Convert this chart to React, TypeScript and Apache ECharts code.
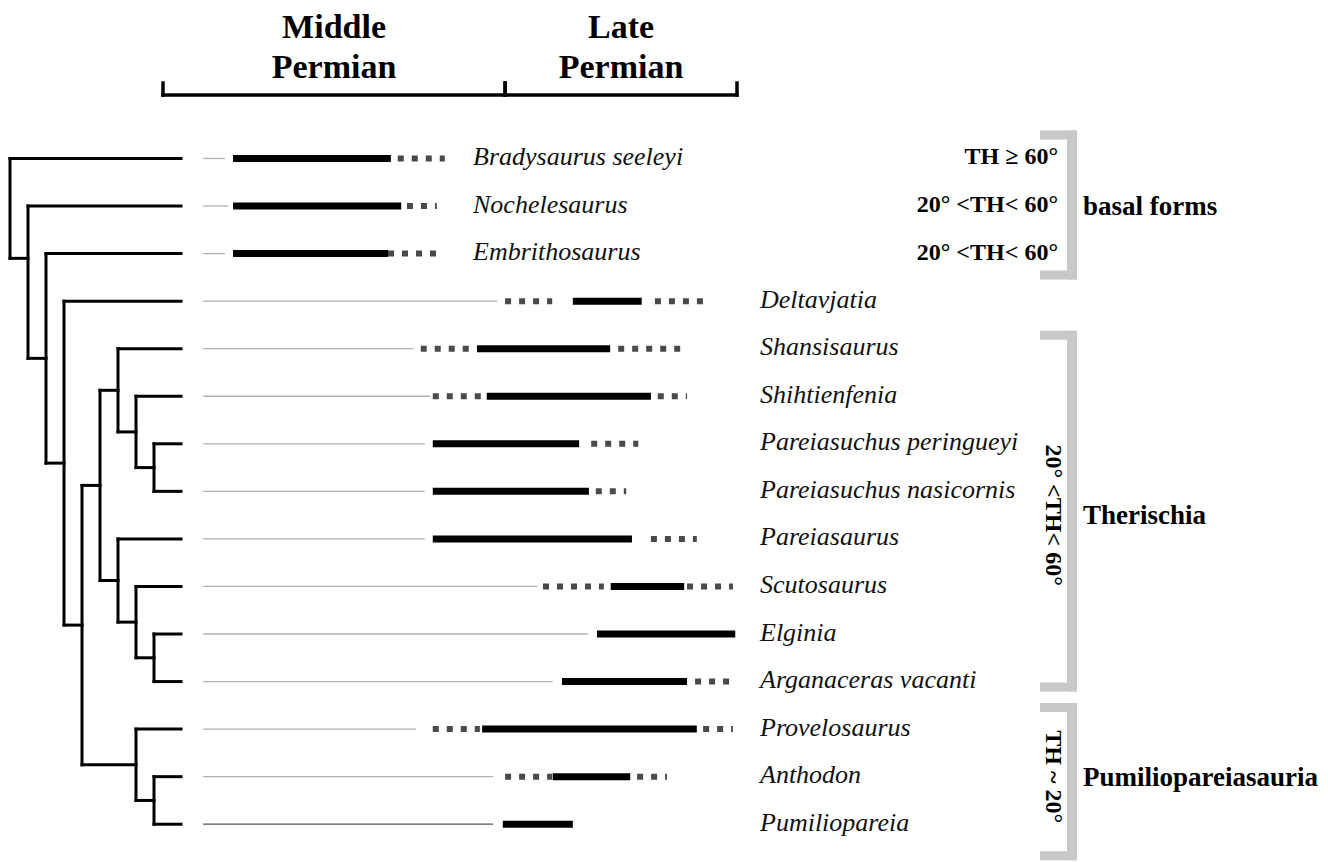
import React, { useEffect, useRef } from "react";
import * as echarts from "echarts";

// ---------- DATA ----------
const taxa = [
  "Bradysaurus seeleyi",
  "Nochelesaurus",
  "Embrithosaurus",
  "Deltavjatia",
  "Shansisaurus",
  "Shihtienfenia",
  "Pareiasuchus peringueyi",
  "Pareiasuchus nasicornis",
  "Pareiasaurus",
  "Scutosaurus",
  "Elginia",
  "Arganaceras vacanti",
  "Provelosaurus",
  "Anthodon",
  "Pumiliopareia",
];

// relative time scale: 0 = base of Middle Permian, 100 = top of Late Permian
const periodNames = ["Middle\nPermian", "Late\nPermian"];
const periodStart = [0, 59.6];
const periodEnd = [59.6, 100];

// ghost lineage (thin grey line)
const ghostStart = [7, 7, 7, 7, 7, 7, 7, 7, 7, 7, 7, 7, 7, 7, 7];
const ghostEnd = [10.8, 11.3, 10.8, 58.2, 43.6, 46.5, 45.6, 45.6, 45.6, 65.2, 74.0, 67.9, 44.1, 57.5, 57.5];
// uncertain range before the confirmed range (dotted)
const preDotStart = [null, null, null, 59.6, 44.9, 47.0, null, null, null, 66.2, null, null, 47.0, 59.6, null];
const preDotEnd = [null, null, null, 67.8, 53.5, 55.4, null, null, null, 76.8, null, null, 55.2, 67.8, null];
// confirmed stratigraphic range (thick bar)
const rangeStart = [12.2, 12.2, 12.2, 71.4, 54.7, 56.4, 47.0, 47.0, 47.0, 78.0, 75.6, 69.5, 55.6, 67.9, 59.2];
const rangeEnd = [39.7, 41.5, 39.2, 83.4, 77.9, 85.0, 72.5, 74.2, 81.7, 90.8, 99.7, 91.3, 93.0, 81.4, 71.4];
// uncertain range after the confirmed range (dotted)
const postDotStart = [40.9, 42.5, 39.2, 85.7, 79.3, 86.2, 74.6, 75.4, 85.0, 91.3, null, 92.7, 94.1, 82.6, null];
const postDotEnd = [49.1, 47.7, 47.7, 94.1, 90.1, 91.3, 82.8, 80.7, 93.0, 99.3, null, 99.1, 99.3, 87.8, null];

// cladogram: internal nodes (c0 = root), children refer to taxa (tN) or clades (cN)
const cladeDepth = [0, 1, 2, 3, 4, 5, 6, 7, 8, 6, 7, 8, 7, 8];
const cladeChildren = [
  ["t0", "c1"],
  ["t1", "c2"],
  ["t2", "c3"],
  ["t3", "c4"],
  ["c5", "c12"],
  ["c6", "c9"],
  ["t4", "c7"],
  ["t5", "c8"],
  ["t6", "t7"],
  ["t8", "c10"],
  ["t9", "c11"],
  ["t10", "t11"],
  ["t12", "c13"],
  ["t13", "t14"],
];
// row where a clade's stem joins it (null = midway between its outermost children)
const cladeStemRow = [null, 3.1, null, null, null, null, null, null, null, null, null, null, null, null];
const tipDepth = 9.5;

// groups and tooth height (TH) annotations
const groupNames = ["basal forms", "Therischia", "Pumiliopareiasauria"];
const groupFirst = [0, 4, 12];
const groupLast = [2, 11, 14];
const groupTH = [null, "20° <TH< 60°", "TH ~ 20°"];
const basalTH = ["TH ≥ 60°", "20° <TH< 60°", "20° <TH< 60°"];

// ---------- HELPERS ----------
const SERIF = "'Liberation Serif', 'Times New Roman', serif";

function nodeRow(ref: string): number {
  const idx = parseInt(ref.slice(1), 10);
  if (ref[0] === "t") return idx + 1;
  if (cladeStemRow[idx] != null) return cladeStemRow[idx] as number;
  const rows = cladeChildren[idx].map(nodeRow);
  return (Math.min(...rows) + Math.max(...rows)) / 2;
}
function nodeDepth(ref: string): number {
  const idx = parseInt(ref.slice(1), 10);
  return ref[0] === "t" ? tipDepth : cladeDepth[idx];
}

const GRID_TOP = 134.7;
const GRID_H = 713.3;

function buildOption(): any {
  const lineSeg = (api: any, a: number, b: number, row: number, style: any) => {
    const p1 = api.coord([a, row]);
    const p2 = api.coord([b, row]);
    return {
      type: "line",
      shape: { x1: p1[0], y1: p1[1], x2: p2[0], y2: p2[1] },
      style,
    };
  };

  const treeSeries = {
    type: "custom",
    xAxisIndex: 0,
    yAxisIndex: 0,
    clip: false,
    silent: true,
    data: cladeDepth.map((d, i) => [d, nodeRow("c" + i)]),
    renderItem: (params: any, api: any) => {
      const ci = params.dataIndex;
      const d = cladeDepth[ci];
      const kids = cladeChildren[ci];
      const rows = kids.map(nodeRow);
      const top = api.coord([d, Math.min(...rows)]);
      const bot = api.coord([d, Math.max(...rows)]);
      const st = { stroke: "#000", lineWidth: 3, lineCap: "square" };
      const children: any[] = [
        { type: "line", shape: { x1: top[0], y1: top[1], x2: bot[0], y2: bot[1] }, style: st },
      ];
      kids.forEach((k) => {
        children.push(lineSeg(api, d, nodeDepth(k), nodeRow(k), st));
      });
      return { type: "group", children };
    },
  };

  const rangeSeries = {
    type: "custom",
    xAxisIndex: 1,
    yAxisIndex: 1,
    clip: false,
    silent: true,
    data: taxa.map((_, i) => [rangeStart[i], i + 1]),
    renderItem: (params: any, api: any) => {
      const i = params.dataIndex;
      const row = i + 1;
      const children: any[] = [];
      children.push(
        lineSeg(api, ghostStart[i], ghostEnd[i], row, {
          stroke: i === taxa.length - 1 ? "#555" : "#b0b0b0",
          lineWidth: 1.3,
        })
      );
      const dotStyle = { stroke: "#4a4a4a", lineWidth: 6, lineDash: [6, 8], lineCap: "butt" };
      if (preDotStart[i] != null) {
        children.push(lineSeg(api, preDotStart[i] as number, preDotEnd[i] as number, row, dotStyle));
      }
      if (postDotStart[i] != null) {
        children.push(lineSeg(api, postDotStart[i] as number, postDotEnd[i] as number, row, dotStyle));
      }
      children.push(
        lineSeg(api, rangeStart[i], rangeEnd[i], row, { stroke: "#000", lineWidth: 7, lineCap: "butt" })
      );
      const isBasal = i >= groupFirst[0] && i <= groupLast[0];
      const p = api.coord([0, row]);
      children.push({
        type: "text",
        style: {
          text: taxa[i],
          x: isBasal ? 473 : 760,
          y: p[1] - 2,
          fill: "#111",
          fontSize: 26,
          fontFamily: SERIF,
          fontStyle: "italic",
          align: "left",
          verticalAlign: "middle",
        },
      });
      return { type: "group", children };
    },
  };

  const headerSeries = {
    type: "custom",
    xAxisIndex: 1,
    yAxisIndex: 1,
    clip: false,
    silent: true,
    data: periodNames.map((_, i) => [periodStart[i], 1]),
    renderItem: (params: any, api: any) => {
      const i = params.dataIndex;
      const x1 = api.coord([periodStart[i], 1])[0];
      const x2 = api.coord([periodEnd[i], 1])[0];
      const by = 95;
      const st = { stroke: "#000", lineWidth: 3.5, lineCap: "square" };
      return {
        type: "group",
        children: [
          { type: "line", shape: { x1, y1: by, x2, y2: by }, style: st },
          { type: "line", shape: { x1, y1: by, x2: x1, y2: by - 12 }, style: st },
          { type: "line", shape: { x1: x2, y1: by, x2, y2: by - 12 }, style: st },
          {
            type: "text",
            style: {
              text: periodNames[i],
              x: (x1 + x2) / 2,
              y: 46,
              fill: "#000",
              fontSize: 34,
              lineHeight: 40,
              fontFamily: SERIF,
              fontWeight: "bold",
              align: "center",
              verticalAlign: "middle",
            },
          },
        ],
      };
    },
  };

  const bracketPad = [
    [28, 26],
    [18, 10],
    [26, 36],
  ];
  const annotSeries = {
    type: "custom",
    xAxisIndex: 1,
    yAxisIndex: 1,
    clip: false,
    silent: true,
    data: groupNames.map((_, i) => [100, groupFirst[i] + 1]),
    renderItem: (params: any, api: any) => {
      const g = params.dataIndex;
      const yFirst = api.coord([0, groupFirst[g] + 1])[1];
      const yLast = api.coord([0, groupLast[g] + 1])[1];
      const yMid = (yFirst + yLast) / 2;
      const top = yFirst - bracketPad[g][0];
      const bottom = yLast + bracketPad[g][1];
      const gray = { fill: "#c8c8c8" };
      const children: any[] = [
        { type: "rect", shape: { x: 1067, y: top, width: 10, height: bottom - top }, style: gray },
        { type: "rect", shape: { x: 1040, y: top, width: 37, height: 9 }, style: gray },
        { type: "rect", shape: { x: 1040, y: bottom - 9, width: 37, height: 9 }, style: gray },
        {
          type: "text",
          style: {
            text: groupNames[g],
            x: 1083,
            y: yMid,
            fill: "#000",
            fontSize: 27,
            fontFamily: SERIF,
            fontWeight: "bold",
            align: "left",
            verticalAlign: "middle",
          },
        },
      ];
      if (groupTH[g]) {
        children.push({
          type: "text",
          x: 1054,
          y: yMid,
          rotation: -Math.PI / 2,
          style: {
            text: groupTH[g],
            x: 0,
            y: 0,
            fill: "#000",
            fontSize: 24,
            fontFamily: SERIF,
            fontWeight: "bold",
            align: "center",
            verticalAlign: "middle",
          },
        });
      } else {
        basalTH.forEach((t, k) => {
          const y = api.coord([0, groupFirst[g] + k + 1])[1];
          children.push({
            type: "text",
            style: {
              text: t,
              x: 1058,
              y: y - 2,
              fill: "#000",
              fontSize: 24,
              fontFamily: SERIF,
              fontWeight: "bold",
              align: "right",
              verticalAlign: "middle",
            },
          });
        });
      }
      return { type: "group", children };
    },
  };

  return {
    animation: false,
    backgroundColor: "#ffffff",
    grid: [
      { left: 10, top: GRID_TOP, width: 171, height: GRID_H },
      { left: 163, top: GRID_TOP, width: 574, height: GRID_H },
    ],
    xAxis: [
      { gridIndex: 0, type: "value", min: 0, max: tipDepth, show: false },
      { gridIndex: 1, type: "value", min: 0, max: 100, show: false },
    ],
    yAxis: [
      { gridIndex: 0, type: "value", min: 0.5, max: 15.5, inverse: true, show: false },
      { gridIndex: 1, type: "value", min: 0.5, max: 15.5, inverse: true, show: false },
    ],
    series: [treeSeries, rangeSeries, headerSeries, annotSeries],
  };
}

export default function App() {
  const ref = useRef<HTMLDivElement>(null);
  useEffect(() => {
    document.body.style.margin = "0";
    const chart = echarts.init(ref.current!, null, { renderer: "svg" });
    chart.setOption(buildOption());
    return () => chart.dispose();
  }, []);
  return <div ref={ref} style={{ width: 1328, height: 862 }} />;
}
